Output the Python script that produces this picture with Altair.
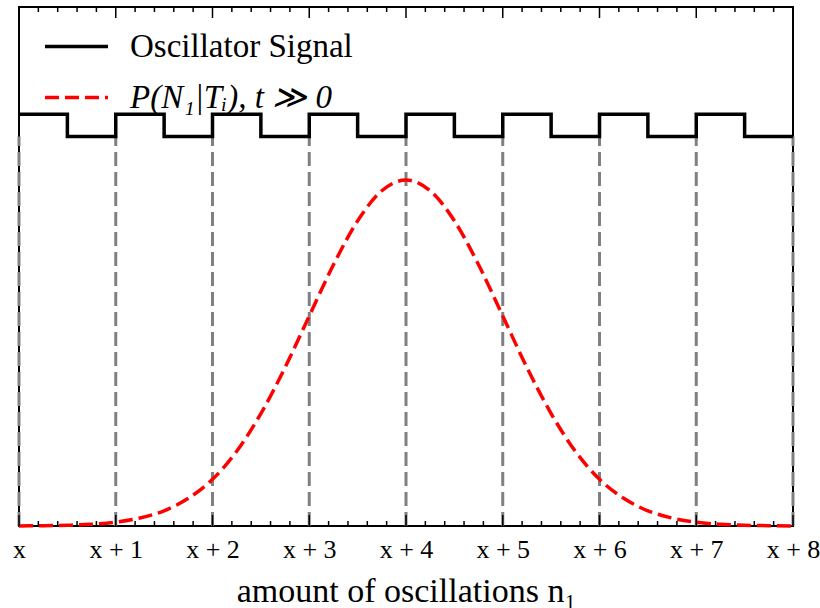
import altair as alt
import pandas as pd

# ---- data ----
x_ticks = [0, 1, 2, 3, 4, 5, 6, 7, 8]
x_tick_labels = ["x", "x + 1", "x + 2", "x + 3", "x + 4", "x + 5", "x + 6", "x + 7", "x + 8"]
minor_ticks = [0.2, 0.4, 0.6, 0.8, 1.2, 1.4, 1.6, 1.8, 2.2, 2.4, 2.6, 2.8,
               3.2, 3.4, 3.6, 3.8, 4.2, 4.4, 4.6, 4.8, 5.2, 5.4, 5.6, 5.8,
               6.2, 6.4, 6.6, 6.8, 7.2, 7.4, 7.6, 7.8]

signal_x = [0, 0.5, 1, 1.5, 2, 2.5, 3, 3.5, 4, 4.5, 5, 5.5, 6, 6.5, 7, 7.5, 8]
signal_y = [1.19, 1.126, 1.19, 1.126, 1.19, 1.126, 1.19, 1.126, 1.19,
            1.126, 1.19, 1.126, 1.19, 1.126, 1.19, 1.126, 1.126]

gauss_x = [0, 0.25, 0.5, 0.75, 1, 1.25, 1.5, 1.75, 2, 2.25, 2.5, 2.75, 3, 3.25, 3.5, 3.75,
           4, 4.25, 4.5, 4.75, 5, 5.25, 5.5, 5.75, 6, 6.25, 6.5, 6.75, 7, 7.25, 7.5, 7.75, 8]
gauss_y = [0.0003, 0.0009, 0.0022, 0.005, 0.011, 0.023, 0.044, 0.080, 0.135, 0.216, 0.325,
           0.458, 0.607, 0.755, 0.882, 0.969, 1.0, 0.969, 0.882, 0.755, 0.607, 0.458, 0.325,
           0.216, 0.135, 0.080, 0.044, 0.023, 0.011, 0.005, 0.0022, 0.0009, 0.0003]

grid_x = [0, 1, 2, 3, 4, 5, 6, 7, 8]
grid_top = 1.126

series_names = ["Oscillator Signal", "P(N₁|Tᵢ), t ≫ 0"]
series_colors = ["black", "#ff0000"]
series_dash = [[1, 0], [14, 6]]

W, H = 774, 519
FONT = "Liberation Serif"

# ---- tables ----
sig_df = pd.DataFrame({"x": signal_x, "y": signal_y, "series": series_names[0]})
gau_df = pd.DataFrame({"x": gauss_x, "y": gauss_y, "series": series_names[1]})
grid_df = pd.DataFrame({"x": grid_x, "y0": [0] * len(grid_x), "y1": [grid_top] * len(grid_x)})
major_df = pd.DataFrame({"x": x_ticks})
minor_df = pd.DataFrame({"x": minor_ticks})

label_expr = "[" + ",".join('"%s"' % s for s in x_tick_labels) + "][datum.value]"

xscale = alt.Scale(domain=[0, 8], nice=False, zero=False)
yscale = alt.Scale(domain=[0, 1.5], nice=False, zero=True)

xaxis = alt.Axis(values=x_ticks, labelExpr=label_expr, ticks=False, domain=False, grid=False,
                 labelFlush=False, labelOverlap=False,
                 labelFont=FONT, labelFontSize=26, labelPadding=10, labelColor="black",
                 title="amount of oscillations n₁", titleFont=FONT, titleFontSize=34,
                 titleFontWeight="normal", titleColor="black", titlePadding=12)

color_scale = alt.Scale(domain=series_names, range=series_colors)
dash_scale = alt.Scale(domain=series_names, range=series_dash)

grid = alt.Chart(grid_df).mark_rule(color="#808080", strokeWidth=3, strokeDash=[14, 6]).encode(
    x=alt.X("x:Q", scale=xscale, axis=xaxis),
    y=alt.Y("y0:Q", scale=yscale, axis=None),
    y2="y1:Q",
)

legend = alt.Legend(title=None, orient="none", legendX=24, legendY=6,
                    symbolType="stroke", symbolSize=3969, symbolStrokeWidth=3.5,
                    labelFont=FONT, labelFontSize=33, labelColor="black",
                    labelFontStyle=alt.ExprRef(expr="datum.label == 'Oscillator Signal' ? 'normal' : 'italic'"),
                    labelOffset=20, rowPadding=-24, padding=0, labelLimit=400)

gauss = alt.Chart(gau_df).mark_line(strokeWidth=3.5, interpolate="monotone").encode(
    x=alt.X("x:Q", scale=xscale),
    y=alt.Y("y:Q", scale=yscale),
    color=alt.Color("series:N", scale=color_scale, legend=legend),
    strokeDash=alt.StrokeDash("series:N", scale=dash_scale, legend=legend),
)

signal = alt.Chart(sig_df).mark_line(strokeWidth=3.5, interpolate="step-after").encode(
    x=alt.X("x:Q", scale=xscale),
    y=alt.Y("y:Q", scale=yscale),
    color=alt.Color("series:N", scale=color_scale, legend=legend),
    strokeDash=alt.StrokeDash("series:N", scale=dash_scale, legend=legend),
)

def ticks(df, y_a, y_b):
    return alt.Chart(df).mark_rule(color="black", strokeWidth=1.5).encode(
        x=alt.X("x:Q", scale=xscale), y=alt.value(y_a), y2=alt.value(y_b))

chart = alt.layer(
    grid, gauss, signal,
    ticks(major_df, 0, 11), ticks(major_df, H, H - 11),
    ticks(minor_df, 0, 5), ticks(minor_df, H, H - 5),
).properties(
    width=W, height=H,
    background="white",
    autosize=alt.AutoSizeParams(type="none"),
    padding={"left": 19, "top": 7, "right": 27, "bottom": 82},
).configure_view(
    stroke="black", strokeWidth=2
)

chart.save("out.html", embed_options={"renderer": "svg", "actions": False})
